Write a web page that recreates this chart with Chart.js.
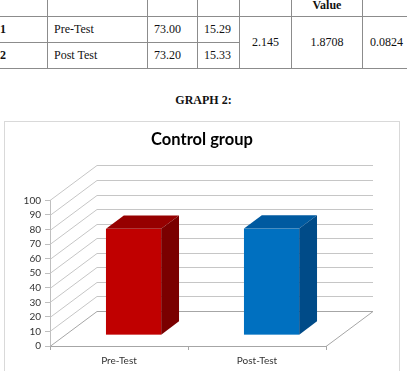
<!DOCTYPE html>
<html>
<head>
<meta charset="utf-8">
<script src="https://cdn.jsdelivr.net/npm/chart.js@4.4.1/dist/chart.umd.min.js"></script>
<style>
  html, body { margin: 0; padding: 0; background: #fff; }
  body { width: 407px; height: 371px; overflow: hidden; position: relative; }
  #stats {
    position: absolute; left: -7px; top: -24px; width: 417px;
    border-collapse: collapse; table-layout: fixed;
    font-family: "Liberation Serif", "Times New Roman", serif; font-size: 12px; color: #111;
  }
  #stats td { border: 1px solid #8c8c8c; padding: 0 6px; height: 25px; white-space: nowrap; }
  #stats tr.head td { height: 36px; vertical-align: bottom; padding-bottom: 3px; font-weight: bold; text-align: center; }
  #stats td.num { font-weight: bold; }
  #stats td.mid { text-align: center; }
  #heading {
    position: absolute; left: 0; width: 407px; top: 93px; text-align: center;
    font-family: "Liberation Serif", "Times New Roman", serif; font-size: 12px; font-weight: bold; color: #111;
  }
  #box {
    position: absolute; left: 4px; top: 121px; width: 396px; height: 256px;
    box-sizing: border-box; border: 1px solid #d9d9d9;
  }
  #box canvas { display: block; }
</style>
</head>
<body>
<table id="stats">
  <colgroup>
    <col style="width:54px"><col style="width:100px"><col style="width:50px"><col style="width:42px">
    <col style="width:52px"><col style="width:71px"><col style="width:48px">
  </colgroup>
  <tbody id="statsBody"></tbody>
</table>
<div id="heading">GRAPH 2:</div>
<div id="box"><canvas id="chart" width="394" height="254"></canvas></div>

<script>
// table values
const rowNo = ["1", "2"];
const testNames = ["Pre-Test", "Post Test"];
const means = ["73.00", "73.20"];
const sds = ["15.29", "15.33"];
const tValue = "2.145";
const tableValue = "1.8708";
const pValue = "0.0824";

// chart values
const categories = ["Pre-Test", "Post-Test"];
const scores = [73.00, 73.20];
const yTicks = { min: 0, max: 100, step: 10 };

const frontColors = ["#c00000", "#0070c0"];
const topColors = ["#960000", "#005aa0"];
const sideColors = ["#7a0000", "#004b88"];

// TABLE
const body = document.getElementById("statsBody");
let html = `<tr class="head"><td></td><td></td><td></td><td></td><td></td><td>Value</td><td></td></tr>`;
rowNo.forEach((n, i) => {
    html += `<tr>
        <td class="num">${n}</td>
        <td>${testNames[i]}</td>
        <td>${means[i]}</td>
        <td>${sds[i]}</td>
        ${i === 0 ? `<td rowspan="2" class="mid">${tValue}</td><td rowspan="2" class="mid">${tableValue}</td><td rowspan="2" class="mid">${pValue}</td>` : ""}
    </tr>`;
});
body.innerHTML = html;

// 3D look
const depth = { x: 47, y: -35 };
const barFront = 0.31, barBack = 0.69;

const walls3d = {
    id: "walls3d",
    beforeDatasetsDraw(chart) {
        const { ctx, chartArea: a, scales: { y } } = chart;
        ctx.save();
        ctx.lineWidth = 1;
        y.ticks.forEach(t => {
            const py = Math.round(y.getPixelForValue(t.value)) + 0.5;
            ctx.strokeStyle = t.value === 0 ? "#a6a6a6" : "#c6c6c6";
            ctx.beginPath();
            ctx.moveTo(a.left, py);
            ctx.lineTo(a.left + depth.x, py + depth.y);
            ctx.lineTo(a.right + depth.x, py + depth.y);
            ctx.stroke();
        });
        // floor right edge
        const by = Math.round(a.bottom) + 0.5;
        ctx.strokeStyle = "#a6a6a6";
        ctx.beginPath();
        ctx.moveTo(a.right, by);
        ctx.lineTo(a.right + depth.x, by + depth.y);
        ctx.stroke();
        ctx.restore();
    },
    afterDatasetsDraw(chart) {
        const ctx = chart.ctx;
        const meta = chart.getDatasetMeta(0);
        const dx = depth.x * (barBack - barFront), dy = depth.y * (barBack - barFront);
        ctx.save();
        meta.data.forEach((bar, i) => {
            const x0 = bar.x - bar.width / 2 + depth.x * barFront;
            const x1 = x0 + bar.width;
            const yt = bar.y + depth.y * barFront;
            const yb = bar.base + depth.y * barFront;

            ctx.fillStyle = frontColors[i];
            ctx.fillRect(x0, yt, bar.width, yb - yt);

            ctx.fillStyle = topColors[i];
            ctx.beginPath();
            ctx.moveTo(x0, yt);
            ctx.lineTo(x1, yt);
            ctx.lineTo(x1 + dx, yt + dy);
            ctx.lineTo(x0 + dx, yt + dy);
            ctx.closePath();
            ctx.fill();

            ctx.fillStyle = sideColors[i];
            ctx.beginPath();
            ctx.moveTo(x1, yt);
            ctx.lineTo(x1 + dx, yt + dy);
            ctx.lineTo(x1 + dx, yb + dy);
            ctx.lineTo(x1, yb);
            ctx.closePath();
            ctx.fill();
        });
        ctx.restore();
    }
};

new Chart(document.getElementById("chart"), {
    type: "bar",
    data: {
        labels: categories,
        datasets: [{
            data: scores,
            backgroundColor: "rgba(0,0,0,0)",
            categoryPercentage: 1,
            barPercentage: 0.4
        }]
    },
    options: {
        responsive: false,
        animation: false,
        layout: { padding: 0 },
        plugins: {
            legend: { display: false },
            tooltip: { enabled: false },
            title: {
                display: true,
                text: "Control group",
                color: "#000",
                font: { family: "Lato", size: 16.5, weight: "bold" },
                padding: { top: 8, bottom: 50.6 }
            }
        },
        scales: {
            x: {
                afterFit: s => { s.height = 30; },
                grid: { drawOnChartArea: false, tickLength: 4, color: "#a6a6a6" },
                border: { color: "#a6a6a6" },
                ticks: { color: "#333", padding: 5, font: { family: "Lato", size: 10 } }
            },
            y: {
                min: yTicks.min,
                max: yTicks.max,
                afterFit: s => { s.width = 45; },
                grid: { drawOnChartArea: false, tickLength: 5, color: "#bfbfbf" },
                border: { color: "#bfbfbf" },
                ticks: { stepSize: yTicks.step, autoSkip: false, color: "#333", padding: 4, font: { family: "Lato", size: 10 } }
            },
            // empty right axis keeps room for the 3D depth
            yRight: {
                position: "right",
                display: true,
                afterFit: s => { s.width = 73; },
                grid: { display: false },
                border: { display: false },
                ticks: { display: false }
            }
        }
    },
    plugins: [walls3d]
});
</script>
</body>
</html>
